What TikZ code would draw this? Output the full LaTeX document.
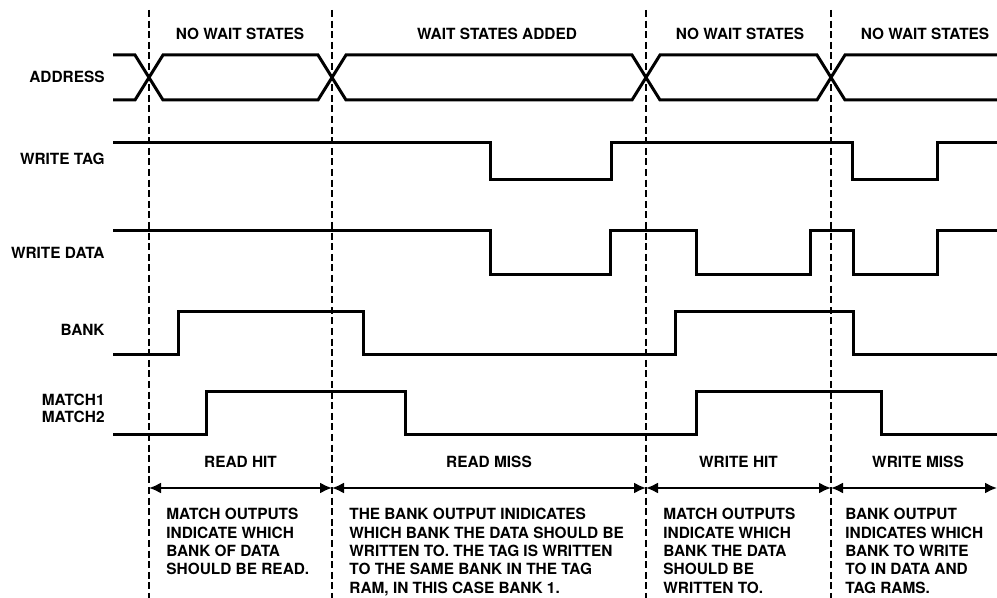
\documentclass[tikz,border=0pt]{standalone}
\usepackage{fontspec}
\setmainfont{TeX Gyre Heros}
\usetikzlibrary{arrows.meta}

\tikzset{
  sig/.style={line width=1.5pt, line join=miter},
  guide/.style={line width=0.6pt, dash pattern=on 3.5pt off 1.8pt},
  span/.style={line width=1pt, {Latex[length=6pt,width=5.5pt]}-{Latex[length=6pt,width=5.5pt]}},
  lbl/.style={font=\fontsize{7.7}{9.15}\selectfont\bfseries, inner sep=0pt},
  note/.style={lbl, anchor=north west, align=left},
  row/.style={lbl, anchor=east, align=right},
}

\begin{document}
\begin{tikzpicture}[x=0.5pt,y=-0.5pt]
      \useasboundingbox (0,0) rectangle (997,598);

      % time marks
      \coordinate (t1) at (149,10);
      \coordinate (t2) at (332,10);
      \coordinate (t3) at (646,10);
      \coordinate (t4) at (831,10);
      \coordinate (b1) at (149,598);
      \coordinate (b2) at (332,598);
      \coordinate (b3) at (646,598);
      \coordinate (b4) at (831,598);

      \draw[guide] (t1) -- (b1);
      \draw[guide] (t2) -- (b2);
      \draw[guide] (t3) -- (b3);
      \draw[guide] (t4) -- (b4);

      \node[lbl] (nws1) at (240,34) {NO WAIT STATES};
      \node[lbl] (wsa) at (497,34) {WAIT STATES ADDED};
      \node[lbl] (nws2) at (740,34) {NO WAIT STATES};
      \node[lbl] (nws3) at (925,34) {NO WAIT STATES};

      \node[row] (addr) at (105,77) {ADDRESS};
      \node[row] (wtag) at (105,159) {WRITE TAG};
      \node[row] (wdata) at (105,253) {WRITE DATA};
      \node[row] (bank) at (105,330) {BANK};
      \node[row] (match) at (105,408) {MATCH1\\[-0.6pt]MATCH2};

      % signals
      \draw[sig] (113,55) -- (135,55) -- (163,100) -- (318,100) -- (346,55) -- (632,55)
        -- (660,100) -- (817,100) -- (845,55) -- (997,55);
      \draw[sig] (113,100) -- (135,100) -- (163,55) -- (318,55) -- (346,100) -- (632,100)
        -- (660,55) -- (817,55) -- (845,100) -- (997,100);
      \draw[sig] (113,143) -- (490,143) -- (490,180) -- (611,180) -- (611,143) -- (852,143)
        -- (852,180) -- (937,180) -- (937,143) -- (997,143);
      \draw[sig] (113,231) -- (490,231) -- (490,275) -- (610,275) -- (610,231) -- (696,231)
        -- (696,275) -- (810,275) -- (810,231) -- (853,231) -- (853,275) -- (937,275)
        -- (937,231) -- (997,231);
      \draw[sig] (113,355) -- (178,355) -- (178,312) -- (363,312) -- (363,355) -- (675,355)
        -- (675,312) -- (853,312) -- (853,355) -- (997,355);
      \draw[sig] (113,435) -- (206,435) -- (206,392) -- (405,392) -- (405,435) -- (696,435)
        -- (696,392) -- (881,392) -- (881,435) -- (997,435);

      % cycles
      \coordinate (a1) at (149,488);
      \coordinate (a2) at (332,488);
      \coordinate (a3) at (646,488);
      \coordinate (a4) at (831,488);
      \coordinate (a5) at (997,488);

      \draw[span] (a1) -- node[lbl,above=9.7pt] (rhit) {READ HIT} (a2);
      \draw[span] (a2) -- node[lbl,above=9.7pt] (rmiss) {READ MISS} (a3);
      \draw[span] (a3) -- node[lbl,above=9.7pt] (whit) {WRITE HIT} (a4);
      \draw[span] (a4) -- node[lbl,above=9.7pt,xshift=2pt] (wmiss) {WRITE MISS} (a5);

      \node[note] (n1) at (166,508) {MATCH OUTPUTS\\INDICATE WHICH\\BANK OF DATA\\SHOULD BE READ.};
      \node[note] (n2) at (349,508) {THE BANK OUTPUT INIDICATES\\WHICH BANK THE DATA SHOULD BE\\WRITTEN TO. THE TAG IS WRITTEN\\TO THE SAME BANK IN THE TAG\\RAM, IN THIS CASE BANK 1.};
      \node[note] (n3) at (663,508) {MATCH OUTPUTS\\INDICATE WHICH\\BANK THE DATA\\SHOULD BE\\WRITTEN TO.};
      \node[note] (n4) at (845,508) {BANK OUTPUT\\INDICATES WHICH\\BANK TO WRITE\\TO IN DATA AND\\TAG RAMS.};
    \end{tikzpicture}
\end{document}
